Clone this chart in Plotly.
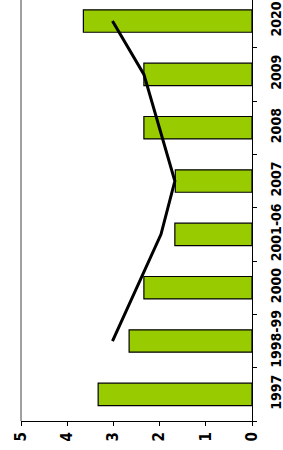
import plotly.graph_objects as go

categories = ["1997", "1998-99", "2000", "2001-06", "2007", "2008", "2009", "2020"]
bar_values = [3.33, 2.66, 2.34, 1.67, 1.66, 2.34, 2.34, 3.65]
line_values = [None, 3.02, 2.5, 1.97, 1.67, 2.0, 2.34, 3.02]
value_ticks = [0, 1, 2, 3, 4, 5]

narrow = "Liberation Sans Narrow, Arial Narrow, DejaVu Sans Condensed, sans-serif"

fig = go.Figure()
fig.add_trace(go.Bar(
    x=bar_values, y=categories, orientation="h", width=0.42,
    marker=dict(color="#99CC00", line=dict(color="#000000", width=1.2)),
    showlegend=False,
))
fig.add_trace(go.Scatter(
    x=line_values, y=categories, mode="lines",
    line=dict(color="#000000", width=3), showlegend=False,
))

fig.update_layout(
    width=283, height=450,
    margin=dict(l=21, r=31, t=0, b=29, autoexpand=False),
    plot_bgcolor="white", paper_bgcolor="white",
    xaxis=dict(
        range=[5, 0], tickvals=value_ticks, ticktext=[str(v) for v in value_ticks],
        tickangle=-90, showgrid=False, zeroline=False, automargin=False,
        showline=True, linecolor="#000000", linewidth=1.2,
        ticks="outside", ticklen=4, tickcolor="#000000", tickwidth=1.2,
        tickfont=dict(family=narrow, size=15, color="#000000", weight="bold"),
    ),
    yaxis=dict(
        type="category", categoryorder="array", categoryarray=categories,
        range=[-0.5, 7.395], side="right", tickangle=-90,
        showgrid=False, zeroline=False, automargin=False,
        showline=True, linecolor="#000000", linewidth=1.2,
        ticks="outside", ticklen=4, tickcolor="#000000", tickwidth=1.2,
        tickson="boundaries", ticklabelstandoff=11,
        tickfont=dict(family=narrow, size=14, color="#000000", weight="bold"),
    ),
    shapes=[dict(type="line", xref="paper", yref="paper", x0=0, x1=0, y0=0, y1=1,
                 line=dict(color="#A0A0A0", width=2))],
)

fig.write_html("out.html", config={"displayModeBar": False},
               post_script="document.body.style.margin='0';")
